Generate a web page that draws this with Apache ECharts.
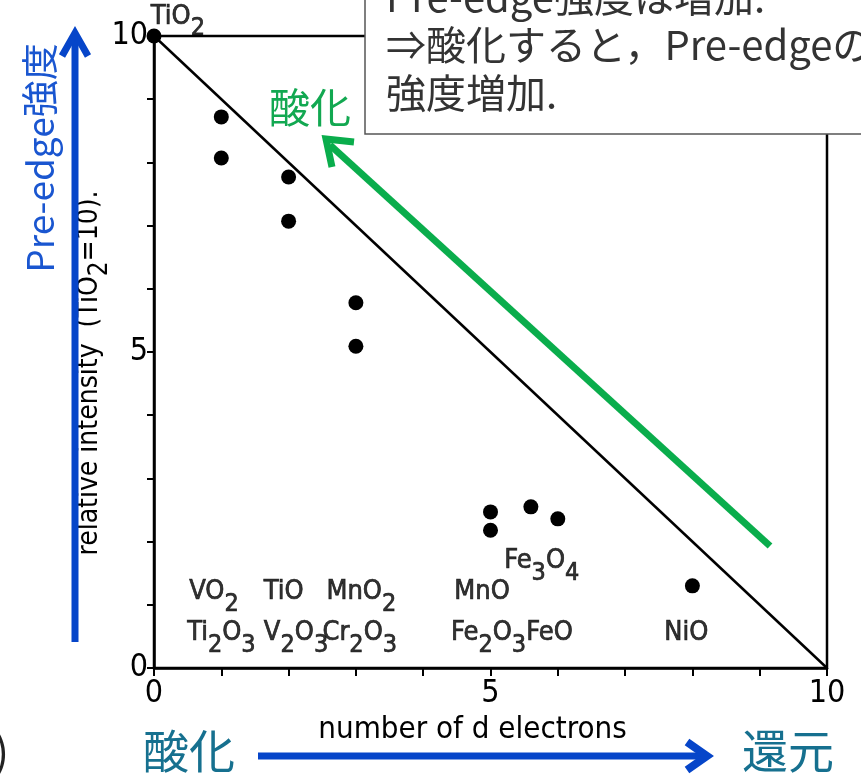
<!DOCTYPE html>
<html>
<head>
<meta charset="utf-8">
<script src="https://cdn.jsdelivr.net/npm/echarts@6/dist/echarts.min.js"></script>
<style>
html,body{margin:0;padding:0;background:#fff;}
#chart{width:861px;height:776px;}
</style>
</head>
<body>
<div id="chart"></div>
<script>
// ---- data ----
const dElectrons   = [0, 1, 1, 2, 2, 3, 3, 5, 5, 5.6, 6, 8];
const relIntensity = [10, 8.72, 8.07, 7.77, 7.07, 5.78, 5.09, 2.47, 2.18, 2.55, 2.36, 1.30];
const refLineX = [0, 10];
const refLineY = [10, 0];
const xTickLabels = [0, 5, 10];
const yTickLabels = [0, 5, 10];
const compoundNames = ['TiO2', 'VO2', 'TiO', 'MnO2', 'MnO', 'Ti2O3', 'V2O3', 'Cr2O3', 'Fe2O3', 'FeO', 'NiO', 'Fe3O4'];
const compoundLabelX = [-0.04, 0.53, 1.64, 2.57, 4.47, 0.50, 1.64, 2.51, 4.42, 5.54, 7.59, 5.21];
const compoundLabelY = [10.30, 1.19, 1.19, 1.19, 1.20, 0.54, 0.54, 0.54, 0.54, 0.54, 0.54, 1.68];

const FONT = '"DejaVu Sans Condensed", "DejaVu Sans", sans-serif';
const JP = '"Noto Sans CJK JP", "Noto Sans", sans-serif';

function formula(name) {
  return name.replace(/([A-Za-z]+)|(\d+)/g, function (m, a, d) {
    return a ? '{n|' + a + '}' : '{s|' + d + '}';
  });
}

const chart = echarts.init(document.getElementById('chart'), null, {renderer: 'canvas'});

const option = {
  backgroundColor: '#fff',
  animation: false,
  grid: {left: 154, right: 34, top: 36, bottom: 108, show: true, borderColor: '#000', borderWidth: 2.5, backgroundColor: 'transparent'},
  xAxis: {
    type: 'value', min: 0, max: 10, interval: 1,
    name: 'number of d electrons', nameLocation: 'middle', nameGap: 42,
    nameTextStyle: {fontFamily: FONT, fontSize: 31, color: '#000', padding: [0, 36, 0, 0]},
    axisLine: {lineStyle: {color: '#000', width: 2.5}},
    axisTick: {length: 8, lineStyle: {color: '#000', width: 2}},
    axisLabel: {margin: 10, fontFamily: FONT, fontSize: 32, color: '#000',
      formatter: v => xTickLabels.indexOf(v) >= 0 ? String(v) : ''},
    splitLine: {show: false}
  },
  yAxis: {
    type: 'value', min: 0, max: 10, interval: 1,
    axisLine: {lineStyle: {color: '#000', width: 2.5}},
    axisTick: {length: 7, lineStyle: {color: '#000', width: 2}},
    axisLabel: {margin: 6, fontFamily: FONT, fontSize: 32, color: '#000',
      formatter: v => yTickLabels.indexOf(v) >= 0 ? String(v) : ''},
    splitLine: {show: false}
  },
  series: [
    {
      type: 'line',
      data: refLineX.map((x, i) => [x, refLineY[i]]),
      symbol: 'none',
      lineStyle: {color: '#000', width: 2.5},
      z: 3
    },
    {
      type: 'scatter',
      data: dElectrons.map((x, i) => [x, relIntensity[i]]),
      symbolSize: 15,
      itemStyle: {color: '#000', opacity: 1},
      clip: false,
      z: 4
    },
    {
      type: 'scatter',
      data: compoundNames.map((n, i) => ({name: n, value: [compoundLabelX[i], compoundLabelY[i]]})),
      symbolSize: 1,
      itemStyle: {color: 'rgba(0,0,0,0)'},
      clip: false,
      silent: true,
      label: {
        show: true, position: [0, 0], align: 'left', verticalAlign: 'middle',
        fontFamily: FONT, fontSize: 27, color: '#000',
        formatter: p => formula(p.name),
        rich: {
          n: {fontFamily: FONT, fontSize: 27, color: '#000', textBorderColor: '#000', textBorderWidth: 0.7},
          s: {fontFamily: FONT, fontSize: 25, color: '#000', textBorderColor: '#000', textBorderWidth: 0.7, padding: [24, 0, 0, 0]}
        }
      },
      z: 5
    }
  ],
  graphic: [
    // Y axis title (rotated, with subscript)
    {type: 'text', z: 6, x: 90, y: 373, rotation: Math.PI / 2,
      style: {text: '{a|relative intensity  (TiO}{b|2}{a|=10).}', align: 'center', verticalAlign: 'middle',
        font: '28px ' + FONT, fill: '#000',
        rich: {
          a: {font: '28px ' + FONT, fill: '#000'},
          b: {font: '26px ' + FONT, fill: '#000', padding: [20, 0, 0, 0]}
        }}},
    // Blue vertical arrow + label
    {type: 'polyline', z: 10, shape: {points: [[75, 642], [75, 34]]}, style: {stroke: '#0645c9', lineWidth: 7}},
    {type: 'polyline', z: 10, shape: {points: [[62, 56], [75, 33], [88, 56]]}, style: {stroke: '#0645c9', lineWidth: 7, fill: null, lineJoin: 'miter'}},
    {type: 'text', z: 10, x: 40, y: 158, rotation: Math.PI / 2,
      style: {text: 'Pre-edge強度', font: '37px ' + JP, fill: '#1a56d0', align: 'center', verticalAlign: 'middle'}},
    // Green arrow + label
    {type: 'polyline', z: 10, shape: {points: [[770, 546], [330, 145]]}, style: {stroke: '#0aad4c', lineWidth: 7}},
    {type: 'polyline', z: 10, shape: {points: [[354, 142], [326, 139], [332, 167]]}, style: {stroke: '#0aad4c', lineWidth: 7, fill: null, lineJoin: 'miter'}},
    {type: 'text', z: 10, x: 310, y: 107,
      style: {text: '酸化', font: '41px ' + JP, fill: '#12a851', align: 'center', verticalAlign: 'middle'}},
    // Bottom horizontal arrow + labels
    {type: 'polyline', z: 10, shape: {points: [[258, 756], [704, 756]]}, style: {stroke: '#0645c9', lineWidth: 7}},
    {type: 'polyline', z: 10, shape: {points: [[687, 742], [707, 756], [687, 770]]}, style: {stroke: '#0645c9', lineWidth: 8, fill: null, lineJoin: 'miter'}},
    {type: 'text', z: 10, x: 189, y: 751,
      style: {text: '酸化', font: '46px ' + JP, fill: '#16708f', align: 'center', verticalAlign: 'middle'}},
    {type: 'text', z: 10, x: 788, y: 751,
      style: {text: '還元', font: '46px ' + JP, fill: '#16708f', align: 'center', verticalAlign: 'middle'}},
    {type: 'text', z: 10, x: 9, y: 751,
      style: {text: ')', font: '44px ' + JP, fill: '#222', align: 'right', verticalAlign: 'middle'}},
    // Text box
    {type: 'rect', z: 20, shape: {x: 365, y: -30, width: 560, height: 164},
      style: {fill: '#fff', stroke: '#555', lineWidth: 1.5}},
    {type: 'text', z: 21, x: 386, y: -3,
      style: {text: 'Pre-edge強度は増加.', font: '40px ' + JP, fill: '#333', align: 'left', verticalAlign: 'middle'}},
    {type: 'text', z: 21, x: 386, y: 45,
      style: {text: '⇒酸化すると，Pre-edgeの', font: '40px ' + JP, fill: '#333', align: 'left', verticalAlign: 'middle'}},
    {type: 'text', z: 21, x: 386, y: 93,
      style: {text: '強度増加.', font: '40px ' + JP, fill: '#333', align: 'left', verticalAlign: 'middle'}}
  ]
};
chart.setOption(option);
</script>
</body>
</html>
